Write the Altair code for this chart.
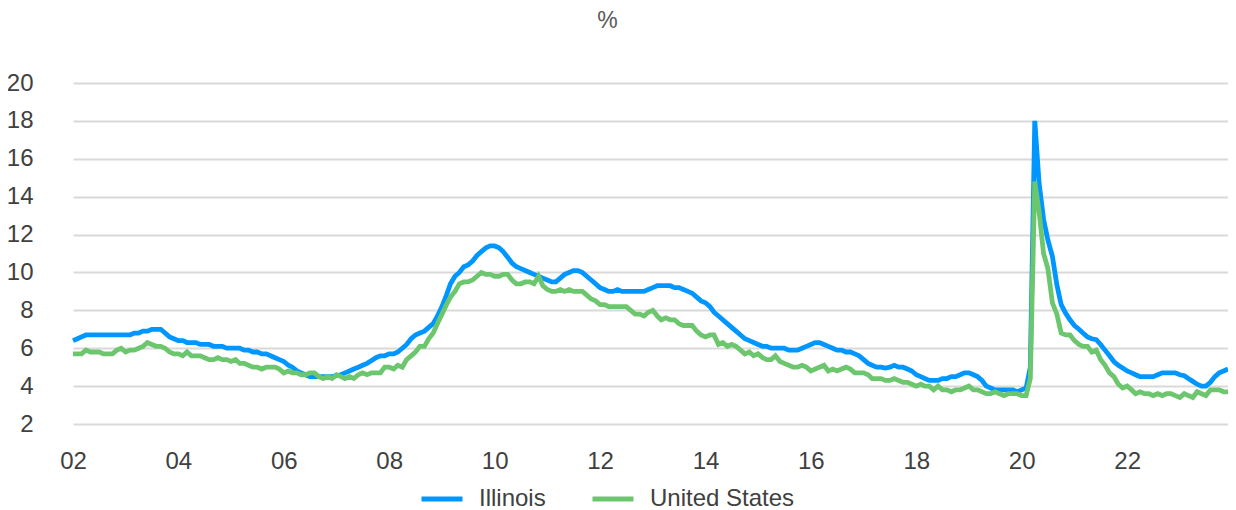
import altair as alt
import pandas as pd

start_month = "2002-01-01"
series_names = ["Illinois", "United States"]

illinois = [
    6.4, 6.5, 6.6, 6.7, 6.7, 6.7, 6.7, 6.7, 6.7, 6.7, 6.7, 6.7,
    6.7, 6.7, 6.8, 6.8, 6.9, 6.9, 7.0, 7.0, 7.0, 6.8, 6.6, 6.5,
    6.4, 6.4, 6.3, 6.3, 6.3, 6.2, 6.2, 6.2, 6.1, 6.1, 6.1, 6.0,
    6.0, 6.0, 6.0, 5.9, 5.9, 5.8, 5.8, 5.7, 5.7, 5.6, 5.5, 5.4,
    5.3, 5.1, 5.0, 4.8, 4.7, 4.6, 4.5, 4.5, 4.5, 4.5, 4.5, 4.5,
    4.55, 4.6, 4.7, 4.8, 4.9, 5.0, 5.1, 5.2, 5.35, 5.5, 5.6, 5.6,
    5.7, 5.7, 5.8, 6.0, 6.2, 6.5, 6.7, 6.8, 6.9, 7.1, 7.3, 7.7,
    8.2, 8.8, 9.4, 9.8, 10.0, 10.3, 10.4, 10.6, 10.9, 11.1, 11.3, 11.4,
    11.4, 11.3, 11.1, 10.8, 10.5, 10.3, 10.2, 10.1, 10.0, 9.9, 9.8, 9.7,
    9.6, 9.5, 9.5, 9.7, 9.9, 10.0, 10.1, 10.1, 10.0, 9.8, 9.6, 9.4,
    9.2, 9.1, 9.0, 9.0, 9.1, 9.0, 9.0, 9.0, 9.0, 9.0, 9.0, 9.1,
    9.2, 9.3, 9.3, 9.3, 9.3, 9.2, 9.2, 9.1, 9.0, 8.9, 8.7, 8.5,
    8.4, 8.2, 7.9, 7.7, 7.5, 7.3, 7.1, 6.9, 6.7, 6.5, 6.4, 6.3,
    6.2, 6.1, 6.1, 6.0, 6.0, 6.0, 6.0, 5.9, 5.9, 5.9, 6.0, 6.1,
    6.2, 6.3, 6.3, 6.2, 6.1, 6.0, 5.9, 5.9, 5.8, 5.8, 5.7, 5.6,
    5.4, 5.2, 5.1, 5.0, 5.0, 4.95, 5.0, 5.1, 5.0, 5.0, 4.9, 4.8,
    4.6, 4.5, 4.4, 4.3, 4.3, 4.3, 4.4, 4.4, 4.5, 4.5, 4.6, 4.7,
    4.7, 4.6, 4.5, 4.3, 4.0, 3.9, 3.8, 3.8, 3.8, 3.8, 3.8, 3.7,
    3.8, 3.9, 5.0, 18.0, 14.7, 12.8, 11.7, 10.85, 9.35, 8.3, 7.85, 7.5,
    7.2, 7.0, 6.8, 6.6, 6.5, 6.45, 6.2, 5.9, 5.6, 5.3, 5.1, 4.95,
    4.8, 4.7, 4.6, 4.5, 4.5, 4.5, 4.5, 4.6, 4.7, 4.7, 4.7, 4.7,
    4.6, 4.55, 4.4, 4.25, 4.1, 4.0, 4.0, 4.2, 4.5, 4.7, 4.8, 4.9,
]

united_states = [
    5.7, 5.7, 5.7, 5.9, 5.8, 5.8, 5.8, 5.7, 5.7, 5.7, 5.9, 6.0,
    5.8, 5.9, 5.9, 6.0, 6.1, 6.3, 6.2, 6.1, 6.1, 6.0, 5.8, 5.7,
    5.7, 5.6, 5.8, 5.6, 5.6, 5.6, 5.5, 5.4, 5.4, 5.5, 5.4, 5.4,
    5.3, 5.4, 5.2, 5.2, 5.1, 5.0, 5.0, 4.9, 5.0, 5.0, 5.0, 4.9,
    4.7, 4.8, 4.7, 4.7, 4.6, 4.6, 4.7, 4.7, 4.5, 4.4, 4.5, 4.4,
    4.6, 4.5, 4.4, 4.5, 4.4, 4.6, 4.7, 4.6, 4.7, 4.7, 4.7, 5.0,
    5.0, 4.9, 5.1, 5.0, 5.4, 5.6, 5.8, 6.1, 6.1, 6.5, 6.8, 7.3,
    7.8, 8.3, 8.7, 9.0, 9.4, 9.5, 9.5, 9.6, 9.8, 10.0, 9.9, 9.9,
    9.8, 9.8, 9.9, 9.9, 9.6, 9.4, 9.4, 9.5, 9.5, 9.4, 9.8, 9.3,
    9.1, 9.0, 9.0, 9.1, 9.0, 9.1, 9.0, 9.0, 9.0, 8.8, 8.6, 8.5,
    8.3, 8.3, 8.2, 8.2, 8.2, 8.2, 8.2, 8.0, 7.8, 7.8, 7.7, 7.9,
    8.0, 7.7, 7.5, 7.6, 7.5, 7.5, 7.3, 7.2, 7.2, 7.2, 6.9, 6.7,
    6.6, 6.7, 6.7, 6.2, 6.3, 6.1, 6.2, 6.1, 5.9, 5.7, 5.8, 5.6,
    5.7, 5.5, 5.4, 5.4, 5.6, 5.3, 5.2, 5.1, 5.0, 5.0, 5.1, 5.0,
    4.8, 4.9, 5.0, 5.1, 4.8, 4.9, 4.8, 4.9, 5.0, 4.9, 4.7, 4.7,
    4.7, 4.6, 4.4, 4.4, 4.4, 4.3, 4.3, 4.4, 4.3, 4.2, 4.2, 4.1,
    4.0, 4.1, 4.0, 4.0, 3.8, 4.0, 3.8, 3.8, 3.7, 3.8, 3.8, 3.9,
    4.0, 3.8, 3.8, 3.7, 3.6, 3.6, 3.7, 3.6, 3.5, 3.6, 3.6, 3.6,
    3.5, 3.5, 4.4, 14.8, 13.2, 11.0, 10.2, 8.4, 7.8, 6.8, 6.7, 6.7,
    6.4, 6.2, 6.1, 6.1, 5.8, 5.9, 5.4, 5.1, 4.7, 4.5, 4.1, 3.9,
    4.0, 3.8, 3.6, 3.7, 3.6, 3.6, 3.5, 3.6, 3.5, 3.6, 3.6, 3.5,
    3.4, 3.6, 3.5, 3.4, 3.7, 3.6, 3.5, 3.8, 3.8, 3.8, 3.7, 3.7,
]

y_ticks = [2, 4, 6, 8, 10, 12, 14, 16, 18, 20]
x_tick_years = [2002, 2004, 2006, 2008, 2010, 2012, 2014, 2016, 2018, 2020, 2022]
colors = ["#0096FF", "#6CC66E"]

dates = pd.date_range(start=start_month, periods=len(illinois), freq="MS")
df = pd.concat([
    pd.DataFrame({"date": dates, "value": illinois, "series": series_names[0]}),
    pd.DataFrame({"date": dates, "value": united_states, "series": series_names[1]}),
])

FONT = "Liberation Sans"
TXT = "#404040"

chart = alt.Chart(df).mark_line(strokeWidth=4.8).encode(
    x=alt.X(
        "date:T",
        scale=alt.Scale(domain=[alt.DateTime(year=2002, month=1, date=1),
                                alt.DateTime(year=2023, month=12, date=1)]),
        axis=alt.Axis(
            title=None, format="%y", grid=False, ticks=False, domain=False,
            values=[alt.DateTime(year=y, month=1, date=1) for y in x_tick_years],
            labelFontSize=24, labelColor=TXT, labelFont=FONT, labelPadding=25,
            labelFlush=False, labelOverlap=False,
        ),
    ),
    y=alt.Y(
        "value:Q",
        scale=alt.Scale(domain=[2, 20], nice=False, zero=False),
        axis=alt.Axis(
            title=None, values=y_ticks, ticks=False, domain=False,
            grid=True, gridColor="#D9D9D9", gridWidth=2,
            labelFontSize=24, labelColor=TXT, labelFont=FONT, labelPadding=40,
        ),
    ),
    color=alt.Color(
        "series:N",
        scale=alt.Scale(domain=series_names, range=colors),
        legend=alt.Legend(
            title=None, orient="none", legendX=346, legendY=393,
            direction="horizontal", symbolType="stroke", symbolSize=1681,
            symbolStrokeWidth=5, labelFontSize=24, labelColor=TXT, labelFont=FONT,
            labelOffset=14, columnPadding=36,
        ),
    ),
).properties(
    width=1155,
    height=341,
    title=alt.TitleParams(
        text="%", fontSize=23, color="#595959", font=FONT, fontWeight="normal",
        anchor="middle", dx=-43, offset=38,
    ),
    autosize=alt.AutoSizeParams(type="none"),
    padding={"left": 65, "top": 75, "right": 0, "bottom": 86},
).configure_view(stroke=None)

chart.save("out.html", embed_options={"renderer": "svg", "actions": False})
